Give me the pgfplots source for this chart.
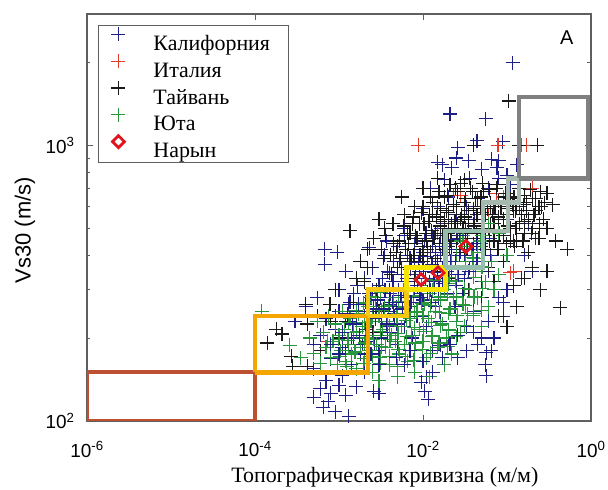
\documentclass[border=0pt]{standalone}
\usepackage{pgfplots}
\pgfplotsset{compat=1.18}
\usepackage{pgfplotstable}
\usepackage{fontspec}
\setmainfont{Liberation Serif}
\newfontfamily\arial{Liberation Sans}
\definecolor{calif}{RGB}{30,30,135}
\definecolor{ital}{RGB}{228,60,40}
\definecolor{taiw}{RGB}{25,25,25}
\definecolor{utah}{RGB}{40,150,60}
\definecolor{naryn}{RGB}{225,20,30}
\definecolor{bxred}{RGB}{190,80,50}
\definecolor{bxorange}{RGB}{245,165,0}
\definecolor{bxgold}{RGB}{245,200,20}
\definecolor{bxyellow}{RGB}{245,228,0}
\definecolor{bxteal}{RGB}{150,190,172}
\definecolor{bxgg}{RGB}{165,185,175}
\definecolor{bxgray}{RGB}{128,128,128}
\definecolor{axgray}{RGB}{95,95,95}

\pgfplotstableread{
x y
5e-4 122
6e-4 131
6.5e-4 112
7e-4 140
7.5e-4 118
8e-4 126
9e-4 108
1e-3 135
1.1e-3 146
1.2e-3 124
1.3e-3 104
1.6e-3 133
2e-3 150
2.6e-3 128
3e-3 126
9.5e-3 138
1.05e-2 128
1.1e-2 145
1.15e-2 120
4.5e-2 190
5.7e-2 177
5.7e-2 146
1.6e-2 188
5e-4 155
1.4e-3 160
5e-4 190
6e-4 205
7e-4 235
8e-4 168
9e-4 215
1e-3 250
1.1e-3 185
1.3e-3 265
1.4e-3 200
1.6e-3 225
1.8e-3 175
2e-3 240
2.2e-3 195
2.4e-3 280
2.6e-3 210
2.8e-3 255
3e-3 180
3.2e-3 230
3.5e-3 300
3.8e-3 205
4e-3 265
4.5e-3 245
5e-3 190
5.5e-3 285
6e-3 220
6.5e-3 330
7e-3 260
7.5e-3 200
8e-3 300
8.5e-3 240
9e-3 350
1e-2 275
1.1e-2 220
1.2e-2 320
1.3e-2 180
1.4e-2 260
1.5e-2 380
1.6e-2 230
1.8e-2 300
2e-2 200
2.2e-2 340
2.4e-2 260
2.6e-2 170
2.8e-2 410
3e-2 290
3.3e-2 220
3.6e-2 360
4e-2 250
5e-2 320
5.5e-2 160
6e-2 230
2e-3 330
2.5e-3 360
3e-3 310
3.5e-3 400
4e-3 345
4.5e-3 380
5e-3 430
5.5e-3 360
6e-3 470
7e-3 390
8e-3 440
9e-3 520
1e-2 410
1.1e-2 480
1.2e-2 560
1.3e-2 430
1.5e-2 600
1.6e-2 470
1.8e-2 520
2e-2 650
2.2e-2 440
2.5e-2 560
2.8e-2 700
3e-2 480
3.3e-2 600
3.6e-2 760
4e-2 520
4.5e-2 640
5e-2 820
5.5e-2 560
6e-2 700
7e-2 600
8e-2 880
9e-2 650
0.1 540
0.11 720
0.12 450
0.14 600
0.16 400
0.18 520
0.2 350
0.22 460
6.8e-4 420
9.5e-4 410
6.8e-4 370
2.3e-3 425
3.7e-3 450
6e-3 500
1e-2 590
1.24e-2 700
1.5e-2 870
0.117 2000
2.1e-2 1300
5.6e-2 1250
2.6e-2 980
4.4e-2 1040
8.9e-2 1030
1.7e-2 850
2.2e-2 830
1.8e-2 750
6.6e-2 890
7.6e-2 830
0.1 780
0.13 850
0.08 760
2.5e-2 900
3.5e-2 880
8e-3 390
6e-3 280
4e-3 220
1.5e-3 290
1e-3 300
5.5e-4 280
4e-4 260
3e-4 230
1.2e-3 350
0.1 300
0.13 260
0.15 330
0.09 240
0.07 200
0.08 280
0.06 350
1.2e-3 180
1.3e-3 230
1.35e-3 270
1.5e-3 200
1.6e-3 250
1.65e-3 310
1.9e-3 190
2.05e-3 270
2.1e-3 215
2.4e-3 230
2.5e-3 300
2.55e-3 260
2.65e-3 190
3.0e-3 240
3.1e-3 280
3.3e-3 330
3.2e-3 200
3.9e-3 250
4.1e-3 290
3.8e-3 350
4.0e-3 210
4.8e-3 260
5.1e-3 300
5.3e-3 380
4.9e-3 225
6.1e-3 270
6.4e-3 320
6.6e-3 400
6.2e-3 240
7.7e-3 280
8.1e-3 340
7.9e-3 420
8.3e-3 250
9.6e-3 290
1.02e-2 350
1.04e-2 450
9.8e-3 240
1.22e-2 300
1.28e-2 370
1.3e-2 470
1.25e-2 270
1.55e-2 320
1.6e-2 400
1.62e-2 500
1.53e-2 280
1.95e-2 350
2.05e-2 420
2.0e-2 540
1.98e-2 290
2.45e-2 380
2.55e-2 460
2.5e-2 600
2.48e-2 310
3.1e-2 400
3.2e-2 500
3.15e-2 330
3.9e-2 420
4.1e-2 540
4.0e-2 360
4.9e-2 440
5.1e-2 380
6.2e-2 460
6.4e-2 400
}\california

\pgfplotstableread{
x y
1.1e-3 210
1.25e-3 245
1.45e-3 225
1.7e-3 265
1.75e-3 205
2.15e-3 250
2.3e-3 290
2.7e-3 235
2.9e-3 275
3.4e-3 255
3.6e-3 300
3.7e-3 225
4.3e-3 270
4.4e-3 320
4.6e-3 240
5.4e-3 285
5.6e-3 340
5.7e-3 255
6.8e-3 300
7.1e-3 355
7.2e-3 270
8.6e-3 310
8.8e-3 375
9.2e-3 280
1.08e-2 330
1.12e-2 395
1.14e-2 295
1.35e-2 345
1.42e-2 410
1.38e-2 305
1.7e-2 360
1.75e-2 430
1.72e-2 315
2.15e-2 380
2.2e-2 455
2.7e-2 400
2.75e-2 470
2.65e-2 340
3.4e-2 420
3.5e-2 350
4.3e-2 440
4.4e-2 380
8e-4 190
9e-4 240
1.0e-3 175
2.4e-3 175
3.0e-3 160
4.8e-3 170
6e-3 160
7e-3 180
1e-2 165
1.3e-2 150
1.7e-2 170
2.1e-2 190
2.6e-2 205
3.3e-2 180
4e-2 210
0.05 200
0.065 180
0.09 270
}\californiatop

\pgfplotstableread{
x y
1.4e-4 192
2.1e-4 207
2.7e-4 172
2.8e-4 158
4.2e-4 158
4.2e-4 225
7.8e-4 265
4e-4 265
1.8e-4 215
5.5e-4 240
6e-4 180
9e-4 300
1.2e-3 230
1.35e-3 490
3.0e-3 540
2.2e-3 420
1.8e-3 380
2.6e-3 460
3.5e-3 500
4.5e-3 440
5.6e-3 650
6e-3 560
7e-3 480
8e-3 600
9e-3 520
1e-2 700
1.1e-2 450
1.2e-2 560
1.3e-2 620
1.4e-2 480
1.5e-2 760
1.6e-2 530
1.7e-2 420
1.8e-2 650
1.9e-2 580
2e-2 480
2.1e-2 720
2.2e-2 400
2.3e-2 610
2.4e-2 530
2.5e-2 450
2.6e-2 680
2.8e-2 730
2.9e-2 560
3e-2 500
3.1e-2 620
3.3e-2 420
3.5e-2 580
3.7e-2 700
4e-2 1000
4e-2 520
4.2e-2 640
4.5e-2 460
4.8e-2 600
5e-2 540
5.3e-2 680
5.6e-2 420
6e-2 500
6.3e-2 620
6.7e-2 560
7e-2 450
7.5e-2 700
8e-2 540
8.5e-2 600
9e-2 470
9.5e-2 650
0.1 560
0.105 1450
0.11 500
0.115 610
0.12 580
0.13 450
0.14 520
0.15 560
0.16 480
0.17 620
0.18 540
0.23 1000
0.2 500
0.22 580
0.24 460
0.27 540
0.3 500
0.35 610
0.38 450
0.43 258
0.52 420
0.25 300
0.3 350
0.2 360
0.16 330
0.13 260
0.12 310
0.18 410
0.09 380
0.07 320
0.06 360
0.05 280
0.04 350
0.035 300
0.02 330
0.015 350
0.01 380
8e-3 330
6e-3 280
5e-3 360
4e-3 300
3e-3 250
2.5e-3 210
2e-3 320
1.5e-3 270
1e-3 200
8e-4 230
0.08 240
0.1 220
0.12 650
0.14 700
0.16 660
0.19 690
0.22 640
0.25 680
0.28 620
0.3 670
0.13 600
0.17 580
0.21 560
0.24 600
0.14 1000
6.2e-3 420
6.5e-3 480
7.8e-3 400
8.1e-3 470
7.7e-3 550
9.8e-3 430
1.03e-2 520
1.0e-2 600
1.24e-2 410
1.27e-2 490
1.3e-2 560
1.22e-2 650
1.56e-2 440
1.6e-2 510
1.62e-2 590
1.55e-2 680
1.97e-2 430
2.03e-2 500
2.0e-2 570
1.95e-2 660
2.48e-2 450
2.55e-2 520
2.5e-2 600
2.45e-2 700
3.1e-2 420
3.2e-2 480
3.15e-2 550
3.22e-2 640
3.12e-2 750
3.95e-2 440
4.05e-2 510
4.0e-2 590
3.92e-2 680
4.95e-2 430
5.1e-2 500
5.05e-2 570
4.9e-2 650
5.15e-2 730
6.2e-2 450
6.4e-2 520
6.3e-2 600
6.15e-2 690
7.8e-2 420
8.1e-2 480
7.9e-2 550
8.0e-2 630
7.7e-2 720
0.098 440
0.102 510
0.1 590
0.097 670
0.124 430
0.128 500
0.126 580
0.122 650
0.155 450
0.16 530
0.158 610
0.195 480
0.205 560
0.2 640
0.245 520
0.255 600
1.6e-3 330
2.2e-3 360
2.8e-3 300
3.4e-3 390
4.2e-3 340
4.8e-3 410
3.2e-3 420
3.6e-3 470
4.1e-3 400
4.4e-3 520
5.2e-3 450
5.4e-3 390
5.9e-3 510
6.8e-3 440
7.2e-3 380
7.5e-3 520
8.5e-3 460
9.2e-3 400
9.5e-3 570
1.08e-2 480
1.12e-2 420
1.18e-2 530
1.35e-2 460
1.4e-2 390
1.45e-2 550
1.7e-2 470
1.75e-2 410
1.8e-2 540
2.15e-2 450
2.2e-2 520
2.7e-2 470
2.75e-2 410
2.8e-2 540
3.4e-2 460
3.5e-2 520
4.3e-2 480
4.4e-2 560
5.5e-2 470
5.8e-2 590
7e-2 520
7.2e-2 600
9e-2 540
0.11 450
0.11 640
}\taiwan

\pgfplotstableread{
x y
1.2e-4 250
2.6e-4 188
3.5e-4 170
4.5e-4 200
5e-4 176
5.5e-4 230
6e-4 162
6.5e-4 210
7e-4 185
7.5e-4 240
8e-4 170
8.5e-4 195
9e-4 225
9.5e-4 160
1e-3 205
1.05e-3 180
1.1e-3 250
1.15e-3 215
1.2e-3 165
1.3e-3 190
1.35e-3 235
1.4e-3 175
1.5e-3 210
1.6e-3 155
1.7e-3 245
1.8e-3 185
1.9e-3 220
2e-3 168
2.1e-3 200
2.2e-3 260
2.3e-3 180
2.4e-3 230
2.5e-3 150
2.6e-3 205
2.7e-3 275
2.8e-3 190
3e-3 240
3.1e-3 170
3.3e-3 215
3.5e-3 260
3.6e-3 185
3.8e-3 230
4e-3 160
4.2e-3 205
4.5e-3 280
4.7e-3 195
5e-3 245
5.2e-3 175
5.5e-3 220
5.8e-3 300
6e-3 190
6.3e-3 260
6.6e-3 165
7e-3 235
7.3e-3 205
7.7e-3 285
8e-3 180
8.5e-3 250
9e-3 215
9.5e-3 310
1e-2 195
1.05e-2 265
1.1e-2 170
1.15e-2 235
1.2e-2 290
1.3e-2 205
1.35e-2 325
1.4e-2 250
1.5e-2 185
1.6e-2 275
1.7e-2 225
1.8e-2 300
1.9e-2 200
2e-2 315
2.1e-2 255
2.2e-2 175
2.3e-2 280
2.5e-2 230
2.6e-2 340
2.8e-2 210
3e-2 265
3.2e-2 380
3.4e-2 245
3.6e-2 300
3.8e-2 420
4e-2 245
4.2e-2 350
4.5e-2 280
4.8e-2 450
5e-2 220
5.5e-2 320
6e-2 260
6.5e-2 380
7e-2 300
8e-2 340
0.1 400
2.5e-2 400
2.8e-2 450
3e-2 470
2.2e-2 380
3.3e-2 430
4e-2 390
4.5e-2 410
5e-2 470
0.06 520
0.08 480
3e-3 140
5e-3 145
8e-3 150
1.2e-2 145
1.8e-2 160
1.02e-3 172
0.98e-3 198
1.24e-3 158
1.28e-3 196
1.3e-3 228
1.55e-3 178
1.62e-3 212
1.6e-3 252
1.97e-3 162
2.03e-3 192
2.0e-3 228
1.96e-3 268
2.48e-3 172
2.55e-3 198
2.5e-3 238
2.45e-3 282
3.1e-3 162
3.2e-3 186
3.15e-3 212
3.22e-3 252
3.12e-3 292
3.95e-3 172
4.05e-3 197
4.0e-3 222
3.92e-3 262
4.95e-3 158
5.1e-3 182
5.05e-3 208
4.9e-3 238
5.15e-3 272
6.2e-3 172
6.4e-3 202
6.3e-3 232
6.15e-3 258
6.35e-3 298
7.8e-3 166
8.1e-3 192
7.9e-3 218
8.0e-3 248
7.7e-3 282
9.8e-3 182
1.02e-2 212
1.0e-2 242
9.7e-3 268
1.24e-2 176
1.28e-2 202
1.26e-2 228
1.22e-2 262
1.3e-2 298
1.55e-2 192
1.6e-2 222
1.58e-2 248
1.62e-2 282
1.97e-2 186
2.03e-2 214
2.0e-2 246
1.95e-2 288
2.05e-2 332
2.48e-2 202
2.55e-2 242
2.5e-2 282
2.45e-2 322
3.1e-2 222
3.2e-2 262
3.15e-2 302
3.22e-2 362
3.95e-2 242
4.05e-2 282
4.0e-2 332
3.92e-2 392
4.95e-2 252
5.1e-2 302
5.05e-2 362
}\utah

\pgfplotstableread{
x y
8.8e-3 1000
7.8e-2 1000
0.15 1000
0.17 1000
2.3e-2 660
2.8e-2 660
7.5e-2 670
0.09 650
0.11 345
0.12 350
7.3e-4 195
0.06 560
1.5e-2 480
0.2 700
}\italy

\pgfplotstableread{
x y
9.5e-3 326
0.0151 345
0.0324 430
}\naryn

\pgfplotsset{mylegimg/.style={legend image code/.code={%
  \draw[mark repeat=2,mark phase=2,##1] plot coordinates {(0bp,6bp)(18bp,6bp)(36bp,6bp)};}}}

\begin{document}
\begin{tikzpicture}
\begin{axis}[
  scale only axis, width=504bp, height=407bp,
  xmode=log, ymode=log,
  xmin=1e-6, xmax=1, ymin=100, ymax=3000,
  xtick={1e-6,1e-4,1e-2,1},
  xticklabels={10\textsuperscript{-6},10\textsuperscript{-4},10\textsuperscript{-2},10\textsuperscript{0}},
  ytick={100,1000},
  yticklabels={10\textsuperscript{2},10\textsuperscript{3}},
  xminorticks=false,
  minor ytick={200,300,400,500,600,700,800,900,2000},
  tick align=inside,
  major tick length=6bp, minor tick length=3.5bp,
  axis line style={axgray, line width=1.3bp},
  every tick/.style={axgray, line width=0.8bp},
  ticklabel style={font=\arial\fontsize{19}{19}\selectfont},
  xticklabel style={yshift=-17bp},
  yticklabel style={xshift=-9bp},
  xlabel={Топографическая кривизна (м/м)},
  xlabel style={font=\fontsize{22}{24}\selectfont, at={(axis description cs:0.591,0)}, anchor=base, yshift=-62bp},
  ylabel={Vs30 (m/s)},
  ylabel style={font=\arial\fontsize{22}{24}\selectfont, at={(axis description cs:-0.123,0.469)}, anchor=center},
  legend cell align=left,
  legend style={at={(rel axis cs:0.0218,0.973)}, anchor=north west,
    draw=axgray, line width=1bp, inner xsep=13bp, inner ysep=1.6bp,
    font=\fontsize{22}{24}\selectfont,
    nodes={text height=20bp, text depth=0bp, inner ysep=3.4bp, inner xsep=0bp},
    column sep=28bp},
  clip mode=individual,
]
\addplot[only marks, mark=+, mark size=7bp, line width=1.15bp, calif, mylegimg] table {\california};
\addlegendentry{Калифорния\hspace*{5bp}}
\addplot[only marks, mark=+, mark size=7bp, line width=1.15bp, ital, mylegimg] table {\italy};
\addlegendentry{Италия}
\addplot[only marks, mark=+, mark size=7bp, line width=1.15bp, taiw, mylegimg] table {\taiwan};
\addlegendentry{Тайвань}
\addplot[only marks, mark=+, mark size=7bp, line width=1.15bp, utah, mylegimg] table {\utah};
\addlegendentry{Юта}
\addplot[only marks, mark=+, mark size=7bp, line width=1.15bp, calif, forget plot] table {\californiatop};
% class boxes
\addplot[bxred, line width=4bp, forget plot] coordinates {(1e-6,100)(1e-6,150)(1e-4,150)(1e-4,100)(1e-6,100)};
\addplot[bxorange, line width=4.5bp, forget plot] coordinates {(1e-4,150)(2.2e-3,150)(2.2e-3,240)(1e-4,240)(1e-4,150)};
\addplot[bxgold, line width=4.5bp, forget plot] coordinates {(2.2e-3,240)(6.4e-3,240)(6.4e-3,300)(2.2e-3,300)(2.2e-3,240)};
\addplot[bxyellow, line width=4.5bp, forget plot] coordinates {(6.4e-3,300)(1.85e-2,300)(1.85e-2,360)(6.4e-3,360)(6.4e-3,300)};
\addplot[bxteal, line width=4.5bp, forget plot] coordinates {(1.85e-2,360)(5.2e-2,360)(5.2e-2,490)(1.85e-2,490)(1.85e-2,360)};
\addplot[bxgg, line width=4.5bp, forget plot] coordinates {(5.2e-2,490)(0.103,490)(0.103,620)(5.2e-2,620)(5.2e-2,490)};
\addplot[bxgg, line width=4.5bp, forget plot] coordinates {(0.103,620)(0.139,620)(0.139,760)(0.103,760)(0.103,620)};
\addplot[bxgray, line width=4.5bp, forget plot] coordinates {(0.139,760)(0.92,760)(0.92,1500)(0.139,1500)(0.139,760)};
\addplot[only marks, mark=square, mark size=4.2bp, line width=2.8bp, naryn, mark options={rotate=45}, mylegimg] table {\naryn};
\addlegendentry{Нарын}
\node[font=\arial\fontsize{20}{20}\selectfont] at (rel axis cs:0.952,0.943) {A};
\end{axis}
\pgfresetboundingbox
\path[use as bounding box] ([shift={(-87bp,-69bp)}]current axis.south west) rectangle ([shift={(17bp,14bp)}]current axis.north east);
\end{tikzpicture}
\end{document}
